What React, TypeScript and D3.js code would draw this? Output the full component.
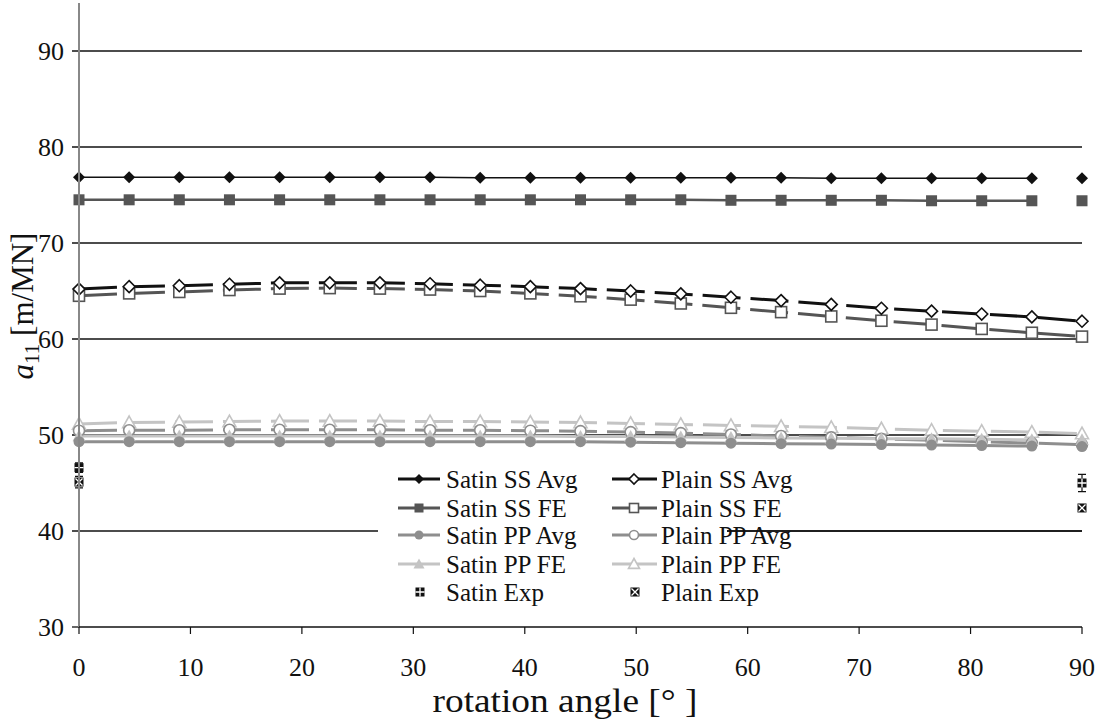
import React from "react";
import * as d3 from "d3";

const angles = [0, 4.5, 9, 13.5, 18, 22.5, 27, 31.5, 36, 40.5, 45, 49.5, 54, 58.5, 63, 67.5, 72, 76.5, 81, 85.5, 90];

const satinSSAvg = [76.85, 76.85, 76.85, 76.85, 76.85, 76.85, 76.85, 76.85, 76.8, 76.8, 76.8, 76.8, 76.8, 76.8, 76.8, 76.75, 76.75, 76.75, 76.75, 76.75, 76.75];
const satinSSFE = [74.5, 74.5, 74.5, 74.5, 74.5, 74.5, 74.5, 74.5, 74.5, 74.5, 74.5, 74.5, 74.5, 74.45, 74.45, 74.45, 74.45, 74.4, 74.4, 74.4, 74.4];
const plainSSAvg = [65.2, 65.45, 65.55, 65.7, 65.85, 65.85, 65.85, 65.75, 65.6, 65.45, 65.25, 65.0, 64.7, 64.35, 64.0, 63.6, 63.2, 62.9, 62.6, 62.3, 61.85];
const plainSSFE = [64.5, 64.75, 64.9, 65.1, 65.25, 65.3, 65.25, 65.15, 65.0, 64.75, 64.45, 64.1, 63.7, 63.25, 62.8, 62.35, 61.9, 61.5, 61.05, 60.65, 60.25];
const satinPPAvg = [49.3, 49.3, 49.3, 49.3, 49.3, 49.3, 49.3, 49.3, 49.3, 49.3, 49.3, 49.25, 49.2, 49.15, 49.1, 49.05, 49.0, 48.95, 48.9, 48.85, 48.8];
const satinPPFE = [49.9, 49.9, 49.9, 49.9, 49.9, 49.9, 49.9, 49.9, 49.9, 49.9, 49.85, 49.85, 49.8, 49.75, 49.7, 49.65, 49.6, 49.6, 49.55, 49.5, 49.5];
const plainPPAvg = [50.45, 50.5, 50.5, 50.55, 50.55, 50.55, 50.55, 50.5, 50.5, 50.45, 50.4, 50.3, 50.2, 50.05, 49.9, 49.75, 49.6, 49.45, 49.3, 49.15, 49.0];
const plainPPFE = [51.15, 51.3, 51.35, 51.4, 51.45, 51.45, 51.45, 51.4, 51.4, 51.35, 51.3, 51.2, 51.1, 51.0, 50.9, 50.8, 50.65, 50.5, 50.4, 50.3, 50.15];

const expAngles = [0, 90];
const satinExp = [46.6, 45.0];
const satinExpErr = [0.5, 0.9];
const plainExp = [45.1, 42.4];
const plainExpErr = [0.6, 0.0];

const xTicks = [0, 10, 20, 30, 40, 50, 60, 70, 80, 90];
const yTicks = [30, 40, 50, 60, 70, 80, 90];

type Marker = "diamond" | "square" | "circle" | "triangle";
interface Series {
  name: string;
  values: number[];
  color: string;
  marker: Marker;
  filled: boolean;
  dashed: boolean;
  width: number;
  breakLast: boolean;
}

const series: Series[] = [
  { name: "Plain PP FE", values: plainPPFE, color: "#c4c4c4", marker: "triangle", filled: false, dashed: true, width: 3, breakLast: false },
  { name: "Plain PP Avg", values: plainPPAvg, color: "#8e8e8e", marker: "circle", filled: false, dashed: true, width: 3, breakLast: false },
  { name: "Satin PP FE", values: satinPPFE, color: "#c4c4c4", marker: "triangle", filled: true, dashed: false, width: 3, breakLast: true },
  { name: "Satin PP Avg", values: satinPPAvg, color: "#8e8e8e", marker: "circle", filled: true, dashed: false, width: 3, breakLast: true },
  { name: "Plain SS FE", values: plainSSFE, color: "#555555", marker: "square", filled: false, dashed: true, width: 3, breakLast: false },
  { name: "Plain SS Avg", values: plainSSAvg, color: "#111111", marker: "diamond", filled: false, dashed: true, width: 3, breakLast: false },
  { name: "Satin SS FE", values: satinSSFE, color: "#555555", marker: "square", filled: true, dashed: false, width: 2.5, breakLast: true },
  { name: "Satin SS Avg", values: satinSSAvg, color: "#111111", marker: "diamond", filled: true, dashed: false, width: 1.5, breakLast: true },
];

const legendLeft = ["Satin SS Avg", "Satin SS FE", "Satin PP Avg", "Satin PP FE"];
const legendRight = ["Plain SS Avg", "Plain SS FE", "Plain PP Avg", "Plain PP FE"];

const FONT = "Liberation Serif";

function MarkerShape({ type, x, y, color, filled, size }: { type: Marker; x: number; y: number; color: string; filled: boolean; size: number }) {
  const fill = filled ? color : "#fff";
  const sw = filled ? 0 : 1.6;
  const s = size;
  if (type === "diamond") {
    const h = s / 2;
    return <path d={`M${x},${y - h}L${x + h},${y}L${x},${y + h}L${x - h},${y}Z`} fill={fill} stroke={color} strokeWidth={filled ? 0 : 1.6} />;
  }
  if (type === "square") {
    const h = s / 2;
    return <rect x={x - h} y={y - h} width={s} height={s} fill={fill} stroke={color} strokeWidth={sw} />;
  }
  if (type === "circle") {
    return <circle cx={x} cy={y} r={s / 2} fill={fill} stroke={color} strokeWidth={sw} />;
  }
  const h = s / 2;
  return <path d={`M${x},${y - h}L${x + h},${y + h * 0.8}L${x - h},${y + h * 0.8}Z`} fill={fill} stroke={color} strokeWidth={sw} />;
}

function ExpMarker({ x, y, kind }: { x: number; y: number; kind: "plus" | "x" }) {
  const h = 4.5;
  return (
    <g>
      <rect x={x - h} y={y - h} width={2 * h} height={2 * h} fill="#111" />
      {kind === "plus" ? (
        <path d={`M${x},${y - h}V${y + h}M${x - h},${y}H${x + h}`} stroke="#fff" strokeWidth={1.3} />
      ) : (
        <path d={`M${x - h + 1},${y - h + 1}L${x + h - 1},${y + h - 1}M${x + h - 1},${y - h + 1}L${x - h + 1},${y + h - 1}`} stroke="#fff" strokeWidth={1.3} />
      )}
    </g>
  );
}

export default function App() {
  const W = 1100, H = 723;
  const x = d3.scaleLinear().domain([0, 90]).range([79, 1082]);
  const y = d3.scaleLinear().domain([30, 95]).range([627, 3]);
  const markerSize = (m: Marker) => (m === "diamond" ? 12 : m === "square" ? 11 : m === "circle" ? 11 : 13);

  const lineFor = (s: Series) => {
    const n = s.breakLast ? s.values.length - 1 : s.values.length;
    return d3.line<number>().x((_, i) => x(angles[i])).y((v) => y(v))(s.values.slice(0, n)) || "";
  };

  const legendRowsY = [479, 508, 535, 564];
  const expRowY = 592;
  const findS = (n: string) => series.find((s) => s.name === n)!;

  return (
    <svg width={W} height={H} style={{ display: "block", position: "absolute", left: 0, top: 0, background: "#fff" }}>
      <rect x={0} y={0} width={W} height={H} fill="#fff" />
      {yTicks.filter((t) => t > 30).map((t) => (
        <line key={t} x1={72} x2={1082} y1={y(t)} y2={y(t)} stroke="#111" strokeWidth={1.3} />
      ))}
      <line x1={72} x2={79} y1={y(30)} y2={y(30)} stroke="#111" strokeWidth={1.3} />
      {series.map((s) => (
        <path key={s.name + "l"} d={lineFor(s)} fill="none" stroke={s.color} strokeWidth={s.width} strokeDasharray={s.dashed ? "38,10" : undefined} />
      ))}
      {series.map((s) => (
        <g key={s.name + "m"}>
          {s.values.map((v, i) => (
            <MarkerShape key={i} type={s.marker} x={x(angles[i])} y={y(v)} color={s.color} filled={s.filled} size={markerSize(s.marker)} />
          ))}
        </g>
      ))}
      {expAngles.map((a, i) => (
        <g key={"se" + i}>
          {satinExpErr[i] > 0 && (
            <path d={`M${x(a)},${y(satinExp[i] + satinExpErr[i])}V${y(satinExp[i] - satinExpErr[i])}M${x(a) - 4},${y(satinExp[i] + satinExpErr[i])}H${x(a) + 4}M${x(a) - 4},${y(satinExp[i] - satinExpErr[i])}H${x(a) + 4}`} stroke="#111" strokeWidth={1.2} />
          )}
          <ExpMarker x={x(a)} y={y(satinExp[i])} kind="plus" />
        </g>
      ))}
      {expAngles.map((a, i) => (
        <g key={"pe" + i}>
          {plainExpErr[i] > 0 && (
            <path d={`M${x(a)},${y(plainExp[i] + plainExpErr[i])}V${y(plainExp[i] - plainExpErr[i])}M${x(a) - 4},${y(plainExp[i] + plainExpErr[i])}H${x(a) + 4}M${x(a) - 4},${y(plainExp[i] - plainExpErr[i])}H${x(a) + 4}`} stroke="#111" strokeWidth={1.2} />
          )}
          <ExpMarker x={x(a)} y={y(plainExp[i])} kind="x" />
        </g>
      ))}
      <line x1={79} x2={79} y1={3} y2={627} stroke="#888" strokeWidth={2} />
      <line x1={79} x2={1082} y1={627} y2={627} stroke="#111" strokeWidth={1.3} />
      {xTicks.map((t) => (
        <line key={"xt" + t} x1={x(t)} x2={x(t)} y1={627} y2={634} stroke="#111" strokeWidth={1.2} />
      ))}
      {xTicks.map((t) => (
        <text key={"xl" + t} x={x(t)} y={667} textAnchor="middle" dominantBaseline="central" fontFamily={FONT} fontSize={26} fill="#111">
          {t}
        </text>
      ))}
      {yTicks.map((t) => (
        <text key={"yl" + t} x={64} y={y(t)} textAnchor="end" dominantBaseline="central" fontFamily={FONT} fontSize={26} fill="#111">
          {t}
        </text>
      ))}
      <text x={565} y={712} textAnchor="middle" fontFamily={FONT} fontSize={34} textLength={265} lengthAdjust="spacingAndGlyphs" fill="#111">
        rotation angle [° ]
      </text>
      <text transform={`translate(33,306) rotate(-90)`} textAnchor="middle" fontFamily={FONT} fontSize={31} fill="#111">
        <tspan fontStyle="italic">a</tspan>
        <tspan fontSize={21} dy={6}>11</tspan>
        <tspan dy={-6}> [m/MN]</tspan>
      </text>
      <rect x={378} y={465} width={349} height={140} fill="#fff" />
      {legendLeft.map((n, i) => {
        const s = findS(n);
        return (
          <g key={n}>
            <line x1={398} x2={440} y1={legendRowsY[i]} y2={legendRowsY[i]} stroke={s.color} strokeWidth={3} />
            <MarkerShape type={s.marker} x={419} y={legendRowsY[i]} color={s.color} filled={s.filled} size={markerSize(s.marker) - 2} />
            <text x={446} y={legendRowsY[i]} dominantBaseline="central" fontFamily={FONT} fontSize={25} fill="#111">{n}</text>
          </g>
        );
      })}
      {legendRight.map((n, i) => {
        const s = findS(n);
        return (
          <g key={n}>
            <line x1={612} x2={657} y1={legendRowsY[i]} y2={legendRowsY[i]} stroke={s.color} strokeWidth={3} />
            <MarkerShape type={s.marker} x={634} y={legendRowsY[i]} color={s.color} filled={s.filled} size={markerSize(s.marker) - 2} />
            <text x={661} y={legendRowsY[i]} dominantBaseline="central" fontFamily={FONT} fontSize={25} fill="#111">{n}</text>
          </g>
        );
      })}
      <ExpMarker x={420} y={expRowY} kind="plus" />
      <text x={446} y={expRowY} dominantBaseline="central" fontFamily={FONT} fontSize={25} fill="#111">Satin Exp</text>
      <ExpMarker x={635} y={expRowY} kind="x" />
      <text x={661} y={expRowY} dominantBaseline="central" fontFamily={FONT} fontSize={25} fill="#111">Plain Exp</text>
      <line x1={727} x2={1082} y1={y(40)} y2={y(40)} stroke="#111" strokeWidth={1.3} />
    </svg>
  );
}
